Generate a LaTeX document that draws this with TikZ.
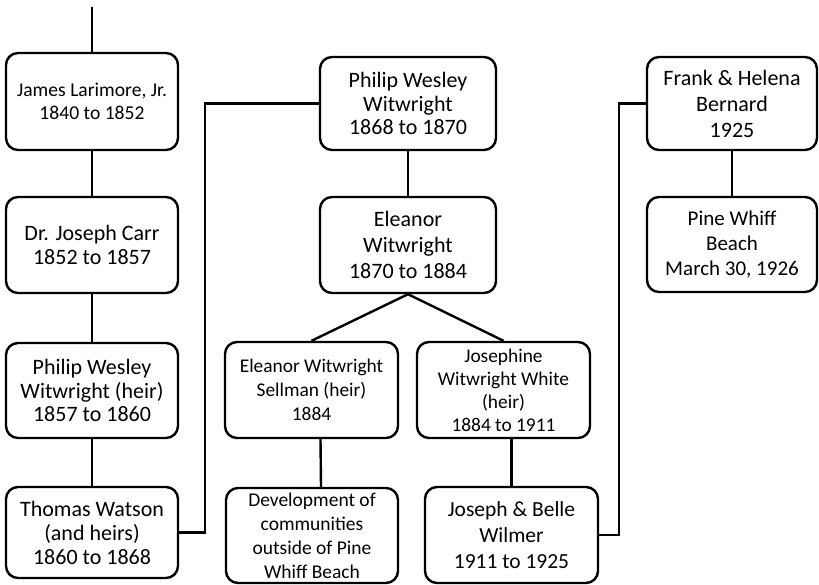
\documentclass[tikz,border=0pt]{standalone}
\usepackage{fontspec}
\setmainfont{Carlito}
\usetikzlibrary{positioning}

\begin{document}
\begin{tikzpicture}[x=1pt,y=-1pt, line width=2.4pt,
    every node/.style={font=\fontsize{22}{24}\selectfont},
    owner/.style={draw, rectangle, rounded corners=12pt, fill=white, align=center, inner sep=1pt, minimum width=172pt, minimum height=95pt}]
    \useasboundingbox (0,0) rectangle (819,584);
    \coordinate (top) at (92,7);
    % first column
    \node[owner, minimum height=97pt, font=\fontsize{19.6}{23}\selectfont] (larimore) at (92,101.5) {James Larimore, Jr.\\1840 to 1852};
    \node[owner, minimum height=96pt, font=\fontsize{22}{24.5}\selectfont] (carr) at (92,245) {Dr. Joseph Carr\\1852 to 1857};
    \node[owner, font=\fontsize{22}{23.5}\selectfont] (philipheir) at (92,390.5) {Philip Wesley\\Witwright (heir)\\1857 to 1860};
    \node[owner, minimum height=91pt] (watson) at (92,532.5) {Thomas Watson\\(and heirs)\\1860 to 1868};
    % middle column
    \node[owner, minimum width=176pt, minimum height=93pt, font=\fontsize{22}{23.5}\selectfont] (philip) at (408,103.5) {Philip Wesley\\Witwright\\1868 to 1870};
    \node[owner, minimum width=176pt, minimum height=96pt, font=\fontsize{22}{26}\selectfont] (eleanor) at (408,245) {Eleanor\\Witwright\\1870 to 1884};
    \node[owner, minimum width=173pt, minimum height=96pt, font=\fontsize{19.4}{24}\selectfont] (sellman) at (311.5,390) {Eleanor Witwright\\Sellman (heir)\\1884};
    \node[owner, minimum width=173pt, minimum height=96pt, font=\fontsize{19.4}{23}\selectfont] (josephine) at (503.5,390) {Josephine\\Witwright White\\(heir)\\1884 to 1911};
    \node[owner, minimum height=95pt, font=\fontsize{19.5}{24}\selectfont] (development) at (312,535.5) {Development of\\communities\\outside of Pine\\Whiff Beach};
    \node[owner, minimum width=173pt, minimum height=96pt, font=\fontsize{21.5}{26}\selectfont] (wilmer) at (511.5,535) {Joseph \& Belle\\Wilmer\\1911 to 1925};
    % right column
    \node[owner, minimum width=170pt, minimum height=93pt, font=\fontsize{22}{26}\selectfont] (bernard) at (732,103.5) {Frank \& Helena\\Bernard\\1925};
    \node[owner, minimum width=170pt, minimum height=95pt, font=\fontsize{21}{25}\selectfont] (beach) at (732,244.5) {Pine Whiff\\Beach\\March 30, 1926};
    % connectors
    \draw (top) -- (larimore);
    \draw (larimore) -- (carr);
    \draw (carr) -- (philipheir);
    \draw (philipheir) -- (watson);
    \draw (watson.east) -- ++(26,0) |- (philip.west);
    \draw (philip) -- (eleanor);
    \draw (eleanor.south) -- (sellman.north);
    \draw (eleanor.south) -- (josephine.north);
    \draw ([xshift=9pt]sellman.south) -- ([xshift=9pt]development.north);
    \draw (wilmer.north) -- (wilmer.north |- josephine.south);
    \draw (wilmer.east) -- ++(20,0) |- (bernard.west);
    \draw (bernard) -- (beach);
\end{tikzpicture}
\end{document}
